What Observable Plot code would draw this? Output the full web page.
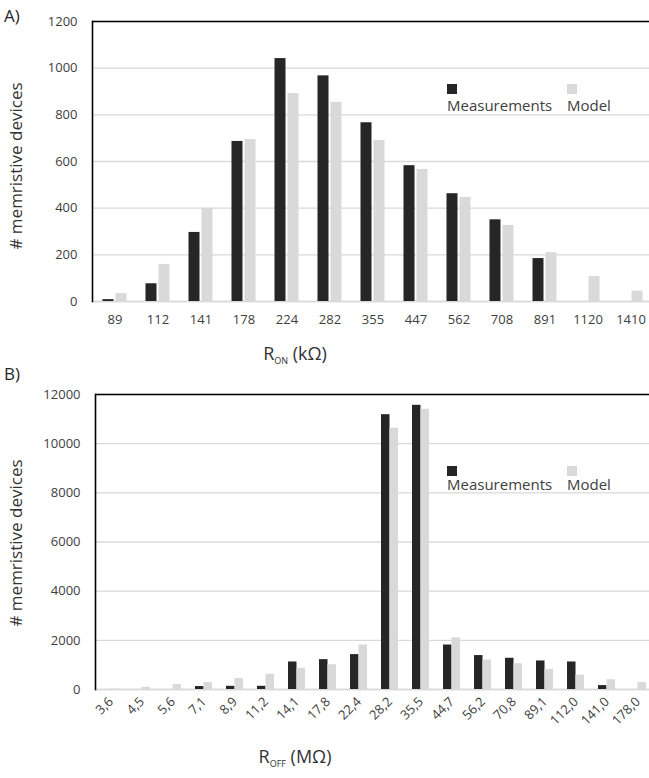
<!DOCTYPE html>
<html><head><meta charset="utf-8">
<script src="https://cdn.jsdelivr.net/npm/d3@7"></script>
<script src="https://cdn.jsdelivr.net/npm/@observablehq/plot@0.6"></script>
<style>
body{margin:0;background:#fff;font-family:"Open Sans",sans-serif;}
#wrap{position:relative;width:649px;height:778px;overflow:hidden;}
#wrap svg.plot{position:absolute;left:0;}
#overlay{position:absolute;left:0;top:0;pointer-events:none;}
</style></head><body><div id="wrap"></div>
<script>
// ---- data ----
const seriesNames = ["Measurements", "Model"];
const seriesColors = ["#262626", "#d9d9d9"];

const ronLabels = ["89","112","141","178","224","282","355","447","562","708","891","1120","1410"];
const ronMeasurements = [8, 76, 296, 686, 1041, 967, 766, 582, 462, 350, 184, 0, 0];
const ronModel = [34, 159, 399, 694, 891, 854, 690, 566, 446, 326, 209, 107, 44];
const ronYTicks = [0, 200, 400, 600, 800, 1000, 1200];

const roffLabels = ["3,6","4,5","5,6","7,1","8,9","11,2","14,1","17,8","22,4","28,2","35,5","44,7","56,2","70,8","89,1","112,0","141,0","178,0"];
const roffMeasurements = [0, 0, 0, 120, 130, 130, 1120, 1215, 1420, 11180, 11560, 1810, 1380, 1270, 1160, 1120, 160, 0];
const roffModel = [20, 90, 200, 280, 450, 620, 865, 1010, 1810, 10630, 11400, 2100, 1200, 1050, 820, 580, 400, 280];
const roffYTicks = [0, 2000, 4000, 6000, 8000, 10000, 12000];

function tidy(labels, meas, model) {
  return labels.flatMap((c, i) => [
    {cat: c, series: seriesNames[0], value: meas[i]},
    {cat: c, series: seriesNames[1], value: model[i]}
  ]);
}

function chart({labels, meas, model, yTicks, height, marginTop, marginBottom, marginLeft, xRange, barW, gap, rotate, tickPad}) {
  const data = tidy(labels, meas, model);
  const bw = (xRange[1] - xRange[0]) / labels.length;
  const half = bw / 2;
  const ymax = yTicks[yTicks.length - 1];
  return Plot.plot({
    width: 649, height, marginTop, marginBottom, marginLeft, marginRight: 0,
    style: {fontFamily: "Open Sans, sans-serif", fontSize: "13px", color: "#404040", background: "white", overflow: "visible"},
    x: {type: "band", domain: labels, range: xRange, padding: 0},
    y: {domain: [0, ymax]},
    color: {domain: seriesNames, range: seriesColors},
    marks: [
      Plot.gridY(yTicks, {stroke: "#d9d9d9", strokeOpacity: 1, strokeWidth: 1.3}),
      Plot.ruleY([0], {stroke: "#d9d9d9", strokeWidth: 1.5}),
      Plot.barY(data.filter(d => d.series === seriesNames[0]), {x: "cat", y: "value", fill: "series",
        insetLeft: half - barW - gap / 2, insetRight: half + gap / 2}),
      Plot.barY(data.filter(d => d.series === seriesNames[1]), {x: "cat", y: "value", fill: "series",
        insetLeft: half + gap / 2, insetRight: half - barW - gap / 2}),
      Plot.ruleY([ymax], {stroke: "#000", strokeWidth: 1.6}),
      Plot.frame({anchor: "left", stroke: "#000", strokeWidth: 1.6}),
      Plot.axisY(yTicks, {tickSize: 0, tickPadding: 15, label: null, fill: "#404040", tickFormat: d3.format("d")}),
      Plot.axisX({tickSize: 0, tickPadding: tickPad, tickRotate: rotate, label: null, fill: "#404040"})
    ]
  });
}

const wrap = document.getElementById("wrap");
const A = chart({labels: ronLabels, meas: ronMeasurements, model: ronModel, yTicks: ronYTicks,
  height: 365, marginTop: 21, marginBottom: 64, marginLeft: 92, xRange: [92.5, 651.5], barW: 11, gap: 2, rotate: 0, tickPad: 13});
A.classList.add("plot"); A.style.top = "0px";
wrap.appendChild(A);

const B = chart({labels: roffLabels, meas: roffMeasurements, model: roffModel, yTicks: roffYTicks,
  height: 413, marginTop: 29, marginBottom: 89, marginLeft: 95, xRange: [94.5, 652.5], barW: 8.5, gap: 0, rotate: -45, tickPad: 10});
B.classList.add("plot"); B.style.top = "365px";
wrap.appendChild(B);

// ---- overlay: panel labels, axis titles, legends ----
const svg = d3.select(wrap).append("svg").attr("id", "overlay").attr("width", 649).attr("height", 778)
  .style("font-family", "Open Sans, sans-serif").attr("fill", "#262626");

svg.append("text").attr("x", 4).attr("y", 22).attr("font-size", 17).text("A)");
svg.append("text").attr("x", 4).attr("y", 380).attr("font-size", 17).text("B)");

function yTitle(cy) {
  svg.append("text").attr("transform", `translate(22,${cy}) rotate(-90)`).attr("text-anchor", "middle")
    .attr("font-size", 17).attr("fill", "#333").text("# memristive devices");
}
yTitle(166); yTitle(543);

function xTitle(cy, sub, unit) {
  const t = svg.append("text").attr("x", 295).attr("y", cy).attr("text-anchor", "middle").attr("font-size", 18).attr("fill", "#333");
  t.append("tspan").text("R");
  t.append("tspan").attr("font-size", 9).attr("dy", 4).text(sub);
  t.append("tspan").attr("dy", -4).text(" (" + unit + ")");
}
xTitle(360, "ON", "kΩ");
xTitle(763, "OFF", "MΩ");

function legend(sqTop, baseline) {
  const xs = [447, 567];
  seriesNames.forEach((s, i) => {
    svg.append("rect").attr("x", xs[i]).attr("y", sqTop).attr("width", 10).attr("height", 10).attr("fill", seriesColors[i]);
    svg.append("text").attr("x", xs[i]).attr("y", baseline).attr("font-size", 15).attr("fill", "#404040").text(s);
  });
}
legend(84, 111);
legend(466, 490);
</script></body></html>
